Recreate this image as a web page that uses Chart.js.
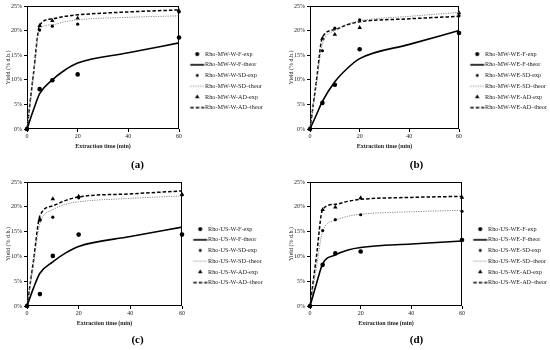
<!DOCTYPE html>
<html>
<head>
<meta charset="utf-8">
<script src="https://cdn.jsdelivr.net/npm/chart.js@4.4.0/dist/chart.umd.min.js"></script>
<style>
  html, body { margin: 0; padding: 0; background: #fff; }
  #wrap { position: relative; width: 550px; height: 350px; }
  #wrap canvas { position: absolute; }
</style>
</head>
<body>
<div id="wrap">
  <canvas id="chartA" width="275" height="175" style="left:0;top:0"></canvas>
  <canvas id="chartB" width="275" height="175" style="left:275px;top:0"></canvas>
  <canvas id="chartC" width="275" height="175" style="left:0;top:175px"></canvas>
  <canvas id="chartD" width="275" height="175" style="left:275px;top:175px"></canvas>
</div>
<script>
const expTimes = [0, 5, 10, 20, 60];
const theorTimes = [0, 2.5, 5, 10, 15, 20, 40, 60];
const xTicks = [0, 20, 40, 60];
const yTicks = [0, 5, 10, 15, 20, 25];
const panelLabels = ['(a)', '(b)', '(c)', '(d)'];
const prefixes = ['Rho-MW-W', 'Rho-MW-WE', 'Rho-US-W', 'Rho-US-WE'];

// (a) micro-ondes, eau
const mwW_F_exp = [0, 8.1, 9.9, 11.1, 18.6];
const mwW_F_theor = [0, 3.8, 7.2, 10.0, 12.0, 13.4, 15.5, 17.5];
const mwW_SD_exp = [0, 20.1, 20.9, 21.3, 23.8];
const mwW_SD_theor = [0, 10.5, 20.3, 21.2, 21.8, 22.2, 22.7, 23.0];
const mwW_AD_exp = [0, 21.0, 22.0, 22.5, 24.0];
const mwW_AD_theor = [0, 11.0, 21.1, 22.4, 22.9, 23.2, 23.8, 24.2];

// (b) micro-ondes, eau-éthanol
const mwWE_F_exp = [0, 5.3, 9.0, 16.2, 19.5];
const mwWE_F_theor = [0, 2.8, 5.6, 9.6, 12.3, 14.3, 17.2, 20.0];
const mwWE_SD_exp = [0, 15.9, 20.5, 22.2, 23.0];
const mwWE_SD_theor = [0, 8.8, 17.3, 20.0, 21.3, 22.0, 22.9, 23.7];
const mwWE_AD_exp = [0, 18.4, 19.2, 20.6, 23.6];
const mwWE_AD_theor = [0, 9.4, 18.6, 20.2, 21.2, 21.8, 22.4, 22.9];

// (c) ultrasons, eau
const usW_F_exp = [0, 2.4, 10.1, 14.4, 14.4];
const usW_F_theor = [0, 3.6, 6.6, 8.9, 10.7, 12.0, 14.0, 15.9];
const usW_SD_exp = [0, 17.3, 17.9, 21.8, 22.4];
const usW_SD_theor = [0, 8.4, 16.6, 19.4, 20.5, 21.0, 21.7, 22.2];
const usW_AD_exp = [0, 17.5, 21.6, 22.1, 22.5];
const usW_AD_theor = [0, 9.1, 18.2, 20.2, 21.3, 22.0, 22.6, 23.2];

// (d) ultrasons, eau-éthanol
const usWE_F_exp = [0, 8.3, 10.6, 11.0, 13.3];
const usWE_F_theor = [0, 4.4, 8.5, 10.3, 11.3, 11.8, 12.5, 13.1];
const usWE_SD_exp = [0, 15.2, 17.4, 18.4, 19.1];
const usWE_SD_theor = [0, 7.6, 15.1, 17.3, 18.1, 18.5, 19.0, 19.3];
const usWE_AD_exp = [0, 19.4, 19.9, 21.8, 21.9];
const usWE_AD_theor = [0, 9.8, 19.5, 20.5, 21.1, 21.5, 21.9, 22.1];

const panelSeries = [
  [mwW_F_exp, mwW_F_theor, mwW_SD_exp, mwW_SD_theor, mwW_AD_exp, mwW_AD_theor],
  [mwWE_F_exp, mwWE_F_theor, mwWE_SD_exp, mwWE_SD_theor, mwWE_AD_exp, mwWE_AD_theor],
  [usW_F_exp, usW_F_theor, usW_SD_exp, usW_SD_theor, usW_AD_exp, usW_AD_theor],
  [usWE_F_exp, usWE_F_theor, usWE_SD_exp, usWE_SD_theor, usWE_AD_exp, usWE_AD_theor]
];
const suffixes = ['-F-exp', '-F-theor', '-SD-exp', '-SD\u2013theor', '-AD-exp', '-AD\u2013theor'];

// zone de tracé voulue pour chaque panneau (px dans le canvas)
const areas = [
  { left: 27, right: 179, top: 6, bottom: 129 },
  { left: 35, right: 184, top: 6, bottom: 129 },
  { left: 27, right: 182, top: 7, bottom: 131 },
  { left: 35, right: 187, top: 7, bottom: 131 }
];

const SERIF = "'Liberation Serif', 'DejaVu Serif', serif";
const TXT = '#222';

// styles des séries : marqueurs pour exp, traits pour theor
const styles = [
  { kind: 'point', shape: 'circle', r: 2.3 },
  { kind: 'line', color: '#000', width: 1.6, dash: [] },
  { kind: 'point', shape: 'circle', r: 1.6 },
  { kind: 'line', color: '#8a8a8a', width: 1, dash: [1.2, 1.2] },
  { kind: 'point', shape: 'triangle', r: 2.6 },
  { kind: 'line', color: '#000', width: 1.5, dash: [3.5, 2] }
];

// petites icônes de légende (canvas) : dessin décalé à droite du centre
function makeIcon(st) {
  const c = document.createElement('canvas');
  c.width = 40; c.height = 8;
  const g = c.getContext('2d');
  if (st.kind === 'line') {
    g.strokeStyle = st.color;
    g.lineWidth = st.width;
    g.setLineDash(st.dash);
    g.beginPath();
    g.moveTo(17.5, 4);
    g.lineTo(31.5, 4);
    g.stroke();
  } else {
    g.fillStyle = '#000';
    g.beginPath();
    if (st.shape === 'triangle') {
      const r = st.r;
      g.moveTo(24.5, 4 - r);
      g.lineTo(24.5 + r * 0.87, 4 + r * 0.5);
      g.lineTo(24.5 - r * 0.87, 4 + r * 0.5);
      g.closePath();
    } else {
      g.arc(24.5, 4, st.r * 0.9, 0, Math.PI * 2);
    }
    g.fill();
  }
  return c;
}
const icons = styles.map(makeIcon);

// cadre autour de la zone de tracé
const framePlugin = {
  id: 'frame',
  beforeDatasetsDraw(chart) {
    const { ctx, chartArea: a } = chart;
    ctx.save();
    ctx.strokeStyle = '#000';
    ctx.lineWidth = 1;
    ctx.strokeRect(Math.round(a.left) + 0.5, Math.round(a.top) + 0.5,
      Math.round(a.right - a.left) - 1, Math.round(a.bottom - a.top) - 1);
    ctx.restore();
  }
};

// largeur fixe de la légende (sinon elle dépend du texte)
function legendWidthPlugin(w) {
  return {
    id: 'legendWidth',
    afterInit(chart) {
      const lg = chart.legend;
      const fit = lg.fit;
      lg.fit = function () { fit.call(this); this.width = w; };
    }
  };
}

const TITLE_BOX = 11 * 1.2 + 3;  // hauteur du titre (a)/(b)...

function makePanel(id, p) {
  const area = areas[p];
  const series = panelSeries[p];
  const titleTop = 175 - TITLE_BOX;

  const datasets = series.map((vals, i) => {
    const st = styles[i];
    const label = prefixes[p] + suffixes[i];
    if (st.kind === 'point') {
      return {
        label: label,
        data: expTimes.map((t, k) => ({ x: t, y: vals[k] })),
        showLine: false,
        pointStyle: st.shape,
        pointRadius: st.r,
        pointBackgroundColor: '#000',
        pointBorderColor: '#000',
        pointBorderWidth: 0,
        clip: false
      };
    }
    return {
      label: label,
      data: theorTimes.map((t, k) => ({ x: t, y: vals[k] })),
      showLine: true,
      pointRadius: 0,
      borderColor: st.color,
      borderWidth: st.width,
      borderDash: st.dash,
      cubicInterpolationMode: 'monotone',
      fill: false,
      clip: false
    };
  });

  return new Chart(document.getElementById(id), {
    type: 'scatter',
    data: { datasets: datasets },
    plugins: [framePlugin, legendWidthPlugin(275 - area.right)],
    options: {
      responsive: false,
      animation: false,
      events: [],
      devicePixelRatio: 1,
      layout: {
        padding: { left: area.left - 27, right: 0, top: area.top, bottom: 0 }
      },
      scales: {
        x: {
          type: 'linear',
          min: 0, max: 60,
          afterBuildTicks: s => { s.ticks = xTicks.map(v => ({ value: v })); },
          afterFit: s => { s.height = titleTop - area.bottom; },
          border: { display: false },
          grid: { drawOnChartArea: false, drawTicks: true, tickLength: 3, color: '#000' },
          ticks: { padding: 1, color: TXT, font: { family: SERIF, size: 6 }, maxRotation: 0 },
          title: {
            display: true,
            text: 'Extraction time (min)',
            color: TXT,
            font: { family: SERIF, size: 6, weight: 'bold' },
            padding: { top: 0, bottom: titleTop - (area.bottom + 17) - 3.6 }
          }
        },
        y: {
          type: 'linear',
          min: 0, max: 25,
          afterBuildTicks: s => { s.ticks = yTicks.map(v => ({ value: v })); },
          afterFit: s => { s.width = 27; },
          border: { display: false },
          grid: { drawOnChartArea: false, drawTicks: true, tickLength: 3, color: '#000' },
          ticks: { padding: 2, color: TXT, font: { family: SERIF, size: 6 }, callback: v => v + '%' },
          title: {
            display: true,
            text: 'Yield (% d.b.)',
            color: TXT,
            font: { family: SERIF, size: 6 },
            padding: { top: 4.4, bottom: 0 }
          }
        }
      },
      plugins: {
        tooltip: { enabled: false },
        title: {
          display: true,
          position: 'bottom',
          text: panelLabels[p],
          color: '#000',
          font: { family: SERIF, size: 11, weight: 'bold', lineHeight: 1.2 },
          padding: { top: 0, bottom: 3 }
        },
        legend: {
          display: true,
          position: 'right',
          align: 'start',
          title: { display: true, text: '', font: { size: 10, lineHeight: 1 }, padding: { top: 36.5 - area.top, bottom: 0 } },
          labels: {
            usePointStyle: true,
            pointStyleWidth: 18.5,
            padding: 4.5,
            color: TXT,
            font: { family: SERIF, size: 6.2 },
            generateLabels: chart => chart.data.datasets.map((ds, i) => ({
              text: ds.label,
              pointStyle: icons[i],
              datasetIndex: i,
              hidden: false,
              lineWidth: 0,
              fillStyle: '#000',
              strokeStyle: '#000',
              fontColor: TXT
            }))
          }
        }
      }
    }
  });
}

makePanel('chartA', 0);
makePanel('chartB', 1);
makePanel('chartC', 2);
makePanel('chartD', 3);
</script>
</body>
</html>
